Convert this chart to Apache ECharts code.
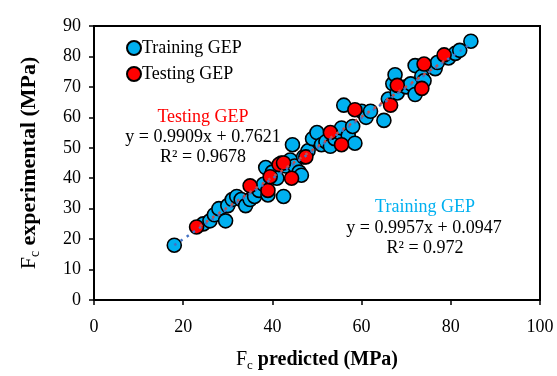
<!DOCTYPE html>
<html>
<head>
<meta charset="utf-8">
<script src="https://cdn.jsdelivr.net/npm/echarts@6/dist/echarts.min.js"></script>
<style>html,body{margin:0;padding:0;background:#fff}#c{width:557px;height:376px}</style>
</head>
<body>
<div id="c"></div>
<script>
var trainingData = [
  [18,18],[24.5,25],[26,26],[27,28],[28,30],[29.5,26],[30,31],[31,33],[32,34],[33,33],
  [34,31],[35,33],[36,34],[37,36],[38,38],[38.5,43.5],[39,34.5],[40,42],[41,40],[42.5,34],
  [42,45],[43,44],[44,46],[44.5,51],[45,44],[46,42],[46.5,41],[47,47],[48,49],[49,53],
  [50,55],[51,51],[52,52],[53,50.5],[54,53],[55,55],[55.5,56.5],[56,64],[57,54],[58,57],
  [58.5,51.5],[60,62],[61,60],[62,62],[65,59],[66,66],[67,71],[67.5,74],[68,68],[70,70],
  [71,71],[72,67.5],[72,77],[73.5,73.5],[74,72],[76.5,76],[77,78],[79.5,79.5],[81,81],[82,82],[84.5,85]
];
var testingData = [
  [23,24],[35,37.5],[39,36],[39.5,40.5],[41.5,44.5],[42.5,45],[44.3,40],[47.5,47],
  [53,55],[55.5,51],[58.5,62.5],[66.5,64],[68,70.5],[73.5,69.5],[74,77.5],[78.5,80.5]
];
var trainingTrend = [[18,18.02],[84.5,84.23]];
var testingTrend = [[23,23.55],[78.5,78.55]];
var xTicks = [0,20,40,60,80,100];
var yTicks = [0,10,20,30,40,50,60,70,80,90];

var serif = '"Liberation Serif","Times New Roman",serif';
function titleRich(size) {
  return {
    r: {fontFamily: serif, fontSize: size, color: '#000'},
    s: {fontFamily: serif, fontSize: Math.round(size * 0.65), color: '#000', verticalAlign: 'bottom', padding: [12,0,0,0]},
    b: {fontFamily: serif, fontSize: size, fontWeight: 'bold', color: '#000'}
  };
}
var chart = echarts.init(document.getElementById('c'));
chart.setOption({
  animation: false,
  grid: {left: 94, right: 17, top: 26, bottom: 76, containLabel: false, outerBoundsMode: 'none',
         show: true, borderColor: '#000', borderWidth: 2, backgroundColor: 'transparent'},
  xAxis: {
    type: 'value', min: 0, max: 100, interval: 20,
    axisLine: {show: true, lineStyle: {color: '#000', width: 2}},
    axisTick: {show: true, inside: false, length: 5, lineStyle: {color: '#000', width: 1.5}},
    splitLine: {show: false},
    axisLabel: {color: '#000', fontFamily: serif, fontSize: 18, margin: 18,
      formatter: function (v) { return xTicks.indexOf(v) >= 0 ? String(v) : ''; }},
    name: '{r|F}{s|c}{b| predicted (MPa)}', nameLocation: 'middle', nameGap: 47,
    nameTextStyle: {rich: titleRich(20)}
  },
  yAxis: {
    type: 'value', min: 0, max: 90, interval: 10,
    axisLine: {show: true, lineStyle: {color: '#000', width: 2}},
    axisTick: {show: true, inside: false, length: 5, lineStyle: {color: '#000', width: 1.5}},
    splitLine: {show: false},
    axisLabel: {color: '#000', fontFamily: serif, fontSize: 18, margin: 13,
      formatter: function (v) { return yTicks.indexOf(v) >= 0 ? String(v) : ''; }},
    name: '{r|F}{s|c}{b| experimental (MPa)}', nameLocation: 'middle', nameGap: 52, nameRotate: 90,
    nameTextStyle: {rich: titleRich(22)}
  },
  legend: {
    orient: 'vertical', left: 121, top: 34, itemWidth: 14, itemHeight: 14, itemGap: 8,
    data: ['Training GEP', 'Testing GEP'],
    textStyle: {fontFamily: serif, fontSize: 18, color: '#000', padding: [0,0,0,-4]}
  },
  series: [
    {name: 'Training GEP', type: 'scatter', data: trainingData, symbol: 'circle', symbolSize: 14, z: 2,
     itemStyle: {color: '#00B0F0', borderColor: '#000', borderWidth: 1.6, opacity: 1}},
    {name: 'Testing GEP', type: 'scatter', data: testingData, symbol: 'circle', symbolSize: 14, z: 3,
     itemStyle: {color: '#FF0000', borderColor: '#000', borderWidth: 1.6, opacity: 1}},
    {name: 'trainTrend', type: 'line', data: trainingTrend, symbol: 'none', z: 4,
     lineStyle: {color: '#4472C4', width: 2.5, type: [2.5, 5]}},
    {name: 'testTrend', type: 'line', data: testingTrend, symbol: 'none', z: 5,
     lineStyle: {color: '#C0504D', width: 2.5, type: [2.5, 5], dashOffset: 3.5}}
  ],
  graphic: [
    {type: 'text', x: 203, y: 117, z: 10, style: {text: 'Testing GEP', fill: '#FF0000', font: '18px ' + serif, textAlign: 'center', textVerticalAlign: 'middle'}},
    {type: 'text', x: 203, y: 137, z: 10, style: {text: 'y = 0.9909x + 0.7621', fill: '#000', font: '18px ' + serif, textAlign: 'center', textVerticalAlign: 'middle'}},
    {type: 'text', x: 203, y: 157, z: 10, style: {text: 'R² = 0.9678', fill: '#000', font: '18px ' + serif, textAlign: 'center', textVerticalAlign: 'middle'}},
    {type: 'text', x: 425, y: 207, z: 10, style: {text: 'Training GEP', fill: '#00B0F0', font: '18px ' + serif, textAlign: 'center', textVerticalAlign: 'middle'}},
    {type: 'text', x: 424, y: 228, z: 10, style: {text: 'y = 0.9957x + 0.0947', fill: '#000', font: '18px ' + serif, textAlign: 'center', textVerticalAlign: 'middle'}},
    {type: 'text', x: 425, y: 248, z: 10, style: {text: 'R² = 0.972', fill: '#000', font: '18px ' + serif, textAlign: 'center', textVerticalAlign: 'middle'}}
  ]
});
</script>
</body>
</html>
